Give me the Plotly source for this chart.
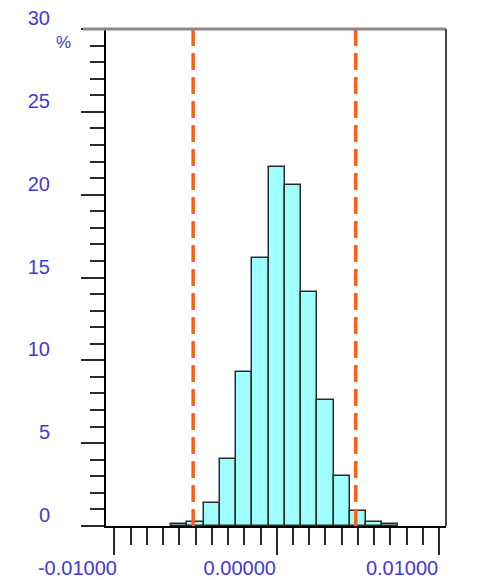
import plotly.graph_objects as go

# Histogram of returns: bin centres (width 0.001) and share of observations in %
bin_centers = [-0.006, -0.005, -0.004, -0.003, -0.002, -0.001, 0.000,
               0.001, 0.002, 0.003, 0.004, 0.005, 0.006, 0.007]
percent = [0.1, 0.22, 1.37, 4.02, 9.28, 16.2, 21.7,
           20.6, 14.1, 7.6, 3.04, 0.9, 0.22, 0.1]
bin_width = 0.001

# Lower / upper limits shown as dashed markers
limits = [-0.00515, 0.00487]

x_tickvals = [-0.01, 0.0, 0.01]
x_ticktext = ["-0.01000", "0.00000", "0.01000"]
y_tickvals = [0, 5, 10, 15, 20, 25, 30]
y_ticktext = ["0", "5", "10", "15", "20", "25", "30"]

label_color = "#4338D8"
tick_color = "#2a2a2a"
font_family = "Liberation Sans, Arial, sans-serif"

fig = go.Figure()
fig.add_trace(go.Bar(
    x=bin_centers,
    y=percent,
    width=bin_width,
    marker=dict(color="#9FFFFF", line=dict(color="#2b2b2b", width=1.5)),
    hoverinfo="x+y",
))

for lim in limits:
    fig.add_shape(type="line", xref="x", yref="paper", x0=lim, x1=lim, y0=0, y1=1,
                  line=dict(color="#FF5F15", width=3.5, dash="17px,7px"), layer="above")

# top and right frame lines
fig.add_shape(type="line", xref="paper", yref="paper", x0=-23 / 340, x1=1, y0=1, y1=1,
              line=dict(color="#8a8a8a", width=3), layer="above")
fig.add_shape(type="line", xref="paper", yref="paper", x0=1, x1=1, y0=0, y1=1,
              line=dict(color="#444444", width=2), layer="above")

fig.add_annotation(text="%", xref="paper", yref="paper", x=-0.126, y=0.972,
                   xanchor="center", yanchor="middle",
                   showarrow=False, font=dict(size=17, color=label_color, family=font_family))

fig.update_layout(
    width=488, height=580,
    margin=dict(l=106, r=42, t=29, b=54),
    plot_bgcolor="white", paper_bgcolor="white",
    showlegend=False,
    bargap=0,
    xaxis=dict(
        range=[-0.01052, 0.01043],
        automargin=False,
        showgrid=False, zeroline=False,
        showline=True, linecolor="black", linewidth=2,
        ticks="outside", ticklen=27, tickwidth=1.5, tickcolor=tick_color,
        tickvals=x_tickvals, ticktext=x_ticktext,
        tickfont=dict(size=20, color=label_color, family=font_family),
        ticklabelshift=-37, ticklabelstandoff=-4,
        minor=dict(dtick=0.001, tick0=0, ticks="outside", ticklen=17,
                   tickwidth=1.5, tickcolor=tick_color, showgrid=False),
    ),
    yaxis=dict(
        range=[0, 30],
        automargin=False,
        showgrid=False, zeroline=False,
        showline=True, linecolor="black", linewidth=2,
        ticks="outside", ticklen=23, tickwidth=1.5, tickcolor=tick_color,
        tickvals=y_tickvals, ticktext=y_ticktext,
        tickfont=dict(size=20, color=label_color, family=font_family),
        ticklabelshift=-11, ticklabelstandoff=27,
        minor=dict(dtick=1, tick0=0, ticks="outside", ticklen=14,
                   tickwidth=1.5, tickcolor=tick_color, showgrid=False),
    ),
)

fig.write_html("out.html")
